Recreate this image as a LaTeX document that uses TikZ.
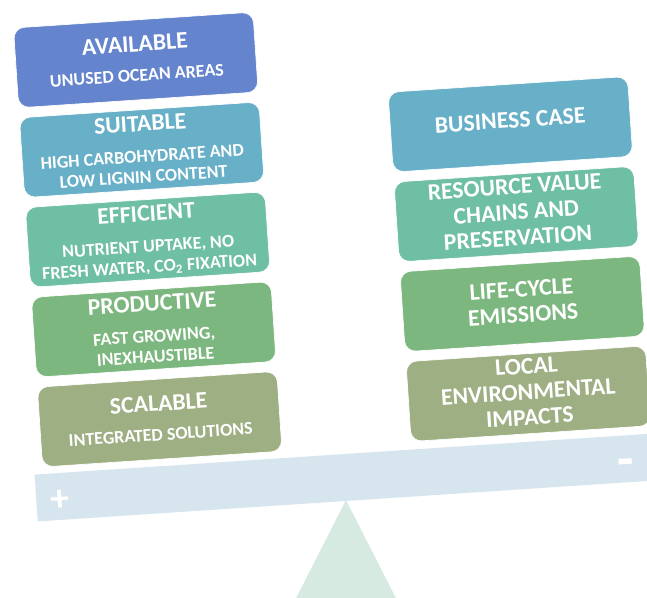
\documentclass[tikz,border=0pt]{standalone}
\usepackage{fontspec}
\setmainfont{Carlito}
\usepackage{tikz}
\usetikzlibrary{positioning}
\definecolor{cardblue}{HTML}{6584CE}
\definecolor{cardteal}{HTML}{68AFC8}
\definecolor{cardmint}{HTML}{6EBFA3}
\definecolor{cardgreen}{HTML}{7BB77E}
\definecolor{cardolive}{HTML}{9EAF83}
\definecolor{beamgrey}{HTML}{D7E6EE}
\definecolor{fulcrumgreen}{HTML}{D6EAE2}
\tikzstyle{card} = [rectangle, rounded corners=8pt, minimum width=180pt, minimum height=60pt, inner sep=0pt, draw=white, line width=0.5pt]
\tikzstyle{cardtitle} = [text=white, font=\bfseries\fontsize{17.8}{19.2}\selectfont, inner sep=0pt, text depth=0pt, align=center]
\tikzstyle{cardnote} = [text=white, font=\bfseries\fontsize{13.5}{15.3}\selectfont, inner sep=0pt, text depth=0pt, align=center]
\tikzstyle{sign} = [text=white, font=\bfseries\fontsize{28}{28}\selectfont, inner sep=0pt]

\begin{document}
\begin{tikzpicture}[x=0.75pt, y=-0.75pt]

\useasboundingbox (0, 0) rectangle (647, 598);
\clip (0, 0) rectangle (647, 598);

% fulcrum
\fill [fulcrumgreen] (346, 500) -- (289, 612) -- (403, 612) -- cycle;

\begin{scope}[shift={(346, 501)}, rotate=3.8, transform shape]

% beam
\fill [beamgrey] (-309, 0) rectangle (360, -47);
\node [sign] (plus) at (-285, -19) {+};
\node [sign, font=\bfseries\fontsize{40}{40}\selectfont] (minus) at (282, -14) {-};

% left stack
\node [card, fill=cardolive] (scalable) at (-180.5, -94) {};
\node [cardtitle] (scalabletitle) at (-180.5, -110) {SCALABLE};
\node [cardnote] (scalablenote) at (-180.5, -78.5) {INTEGRATED SOLUTIONS};

\node [card, fill=cardgreen] (productive) at (-180.5, -184) {};
\node [cardtitle] (productivetitle) at (-180.5, -210) {PRODUCTIVE};
\node [cardnote] (productivenote) at (-180.5, -167) {FAST GROWING,\\INEXHAUSTIBLE};

\node [card, fill=cardmint] (efficient) at (-180.5, -274) {};
\node [cardtitle] (efficienttitle) at (-180.5, -300) {EFFICIENT};
\node [cardnote] (efficientnote) at (-180.5, -257) {NUTRIENT UPTAKE, NO\\FRESH WATER, CO\textsubscript{2} FIXATION};

\node [card, fill=cardteal] (suitable) at (-180.5, -364) {};
\node [cardtitle] (suitabletitle) at (-180.5, -390) {SUITABLE};
\node [cardnote] (suitablenote) at (-180.5, -347) {HIGH CARBOHYDRATE AND\\LOW LIGNIN CONTENT};

\node [card, fill=cardblue] (available) at (-180.5, -454) {};
\node [cardtitle] (availabletitle) at (-180.5, -470) {AVAILABLE};
\node [cardnote] (availablenote) at (-180.5, -438.5) {UNUSED OCEAN AREAS};

% right stack
\node [card, fill=cardolive] (impacts) at (189, -95) {};
\node [cardtitle] (impactstitle) at (189, -97) {LOCAL\\ENVIRONMENTAL\\IMPACTS};

\node [card, fill=cardgreen] (emissions) at (189, -185) {};
\node [cardtitle] (emissionstitle) at (189, -187) {LIFE-CYCLE\\EMISSIONS};

\node [card, fill=cardmint] (chains) at (189, -275) {};
\node [cardtitle] (chainstitle) at (189, -277) {RESOURCE VALUE\\CHAINS AND\\PRESERVATION};

\node [card, fill=cardteal] (business) at (189, -365) {};
\node [cardtitle] (businesstitle) at (189, -369) {BUSINESS CASE};

\end{scope}

\end{tikzpicture}
\end{document}
